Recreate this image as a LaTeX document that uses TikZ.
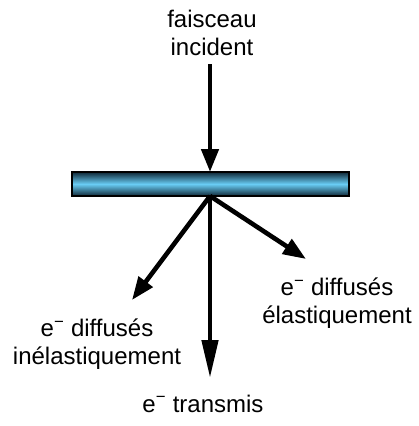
\documentclass[tikz,border=0pt]{standalone}
\usepackage{fontspec}
\setmainfont{Liberation Sans}
\usetikzlibrary{arrows.meta}
\definecolor{bardark}{RGB}{15,40,55}
\definecolor{barlight}{RGB}{105,205,245}
\tikzset{
  lbl/.style={align=center, inner sep=0pt, anchor=base, font=\fontsize{24}{27.6}\selectfont},
  ray/.style={line width=4.6pt, -{Triangle[length=23pt,width=17pt]}},
  longray/.style={line width=4.6pt, -{Triangle[length=38pt,width=16pt]}},
  platebar/.style={draw=black, line width=1.5pt, minimum width=277pt, minimum height=24pt, inner sep=0pt,
     top color=bardark, bottom color=bardark, middle color=barlight}
}
\newcommand{\elec}{e\textsuperscript{−}}
\begin{document}
\begin{tikzpicture}[x=1pt,y=-1pt]
\useasboundingbox (0,0) rectangle (418,426);
\node[platebar] (bar) at (210.5,184) {};
\node[lbl] (inc) at (212,55.5) {faisceau\\incident};
\node[lbl] (ela) at (337,323.5) {\elec{} diffusés\\élastiquement};
\node[lbl] (ine) at (97,364.5) {\elec{} diffusés\\inélastiquement};
\node[lbl] (tra) at (203,412) {\elec{} transmis};
\coordinate (src) at (210,64);
\coordinate (hit) at (210,172);
\coordinate (o) at (210,196);
\coordinate (tl) at (132,300);
\coordinate (tr) at (306,259);
\coordinate (tb) at (210,378);
\draw[ray] (src) -- (hit);
\draw[ray] (o) -- (tl);
\draw[ray] (o) -- (tr);
\draw[longray] (o) -- (tb);
\end{tikzpicture}
\end{document}
